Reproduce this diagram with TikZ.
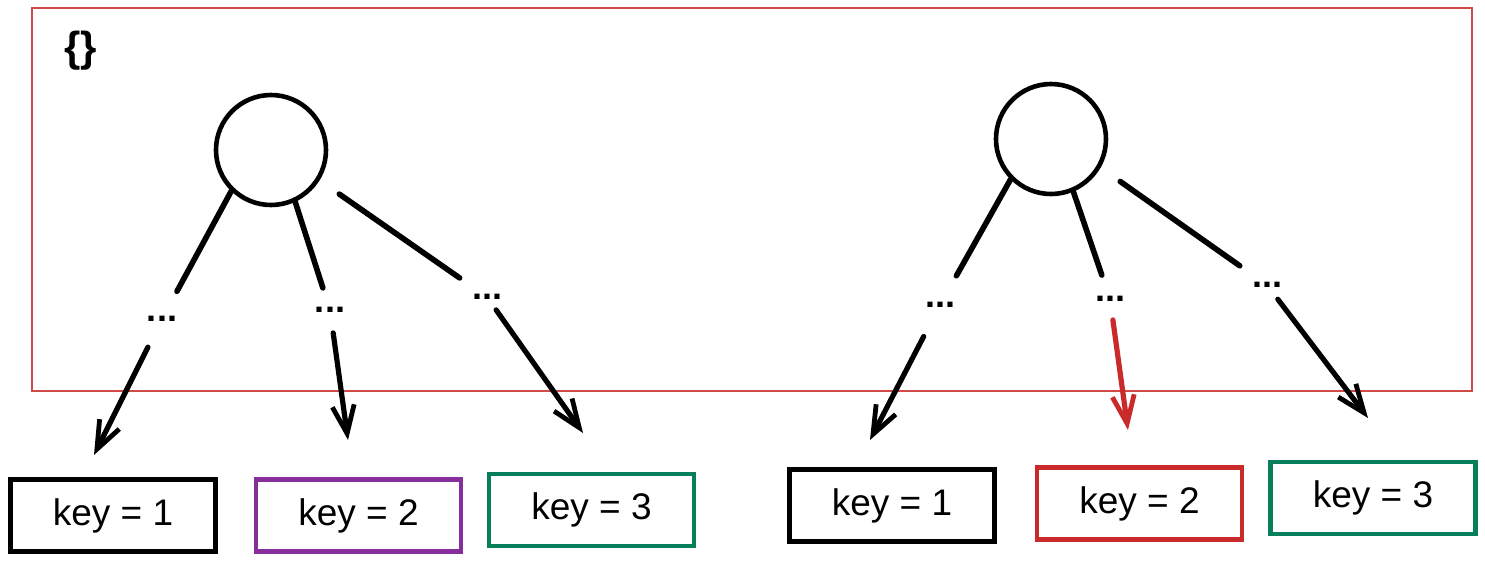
\documentclass[tikz,border=0pt]{standalone}
\usepackage{fontspec}
\setmainfont{Liberation Sans}
\usetikzlibrary{arrows.meta}
\definecolor{exred}{RGB}{201,42,42}
\definecolor{expurple}{RGB}{134,46,156}
\definecolor{exgreen}{RGB}{8,127,91}
\tikzset{
  frameline/.style={draw=exred!85, line width=0.8pt},
  rootnode/.style={circle, draw=black, line width=2.3pt, minimum size=55pt, inner sep=0pt},
  dotsnode/.style={inner sep=0pt, font=\bfseries\fontsize{18}{18}\selectfont},
  keybox/.style={rectangle, draw=black, line width=2.3pt, minimum width=102.5pt, minimum height=36pt, inner sep=0pt, font=\fontsize{18.5}{20}\selectfont},
  edgeline/.style={line width=2.8pt, line cap=round},
  keyarrow/.style={line width=2.6pt, line cap=round, -{Straight Barb[length=14pt,width=11pt,line width=2.4pt]}},
  bracelabel/.style={inner sep=0pt, font=\bfseries\fontsize{21}{21}\selectfont}
}
\begin{document}
\begin{tikzpicture}[x=0.5pt, y=-0.5pt]
\useasboundingbox (0,0) rectangle (1485,564);
% frame
\draw[frameline] (32,8) rectangle (1472,391);
\node[bracelabel] (braces) at (81,51) {\{\}};
% roots
\node[rootnode] (c1) at (271,150) {};
\node[rootnode] (c2) at (1051,139) {};
% dots
\node[dotsnode] (d1) at (162,319) {...};
\node[dotsnode] (d2) at (330,310) {...};
\node[dotsnode] (d3) at (487,297) {...};
\node[dotsnode] (d4) at (940,305) {...};
\node[dotsnode] (d5) at (1110,299) {...};
\node[dotsnode] (d6) at (1267,285) {...};
% key boxes
\node[keybox] (k1) at (113,515.5) {key = 1};
\node[keybox, draw=expurple] (k2) at (358.5,515.5) {key = 2};
\node[keybox, draw=exgreen] (k3) at (591.5,510) {key = 3};
\node[keybox] (k4) at (892,505.5) {key = 1};
\node[keybox, draw=exred] (k5) at (1139.5,503.5) {key = 2};
\node[keybox, draw=exgreen] (k6) at (1373,498) {key = 3};
% arrow tips
\coordinate (t1) at (94,455);
\coordinate (t2) at (348,440);
\coordinate (t3) at (583,433);
\coordinate (t4) at (870,440);
\coordinate (t5) at (1128,430);
\coordinate (t6) at (1368,418);
% edges root -> dots
\draw[edgeline, shorten >=14pt] (c1.-134) -- (d1);
\draw[edgeline, shorten >=10pt] (c1.-65) -- (d2);
\draw[edgeline, shorten <=12pt, shorten >=14pt] (c1.-32) -- (d3);
\draw[edgeline, shorten >=15pt] (c2.-135) -- (d4);
\draw[edgeline, shorten >=11pt] (c2.-67) -- (d5);
\draw[edgeline, shorten <=12pt, shorten >=14pt] (c2.-30) -- (d6);
% arrows dots -> keys
\draw[keyarrow, shorten <=14pt] (d1) -- (t1);
\draw[keyarrow, shorten <=10pt] (d2) -- (t2);
\draw[keyarrow, shorten <=6pt] (d3) -- (t3);
\draw[keyarrow, shorten <=16pt] (d4) -- (t4);
\draw[keyarrow, draw=exred, shorten <=9pt] (d5) -- (t5);
\draw[keyarrow, shorten <=7pt] (d6) -- (t6);
\end{tikzpicture}
\end{document}
